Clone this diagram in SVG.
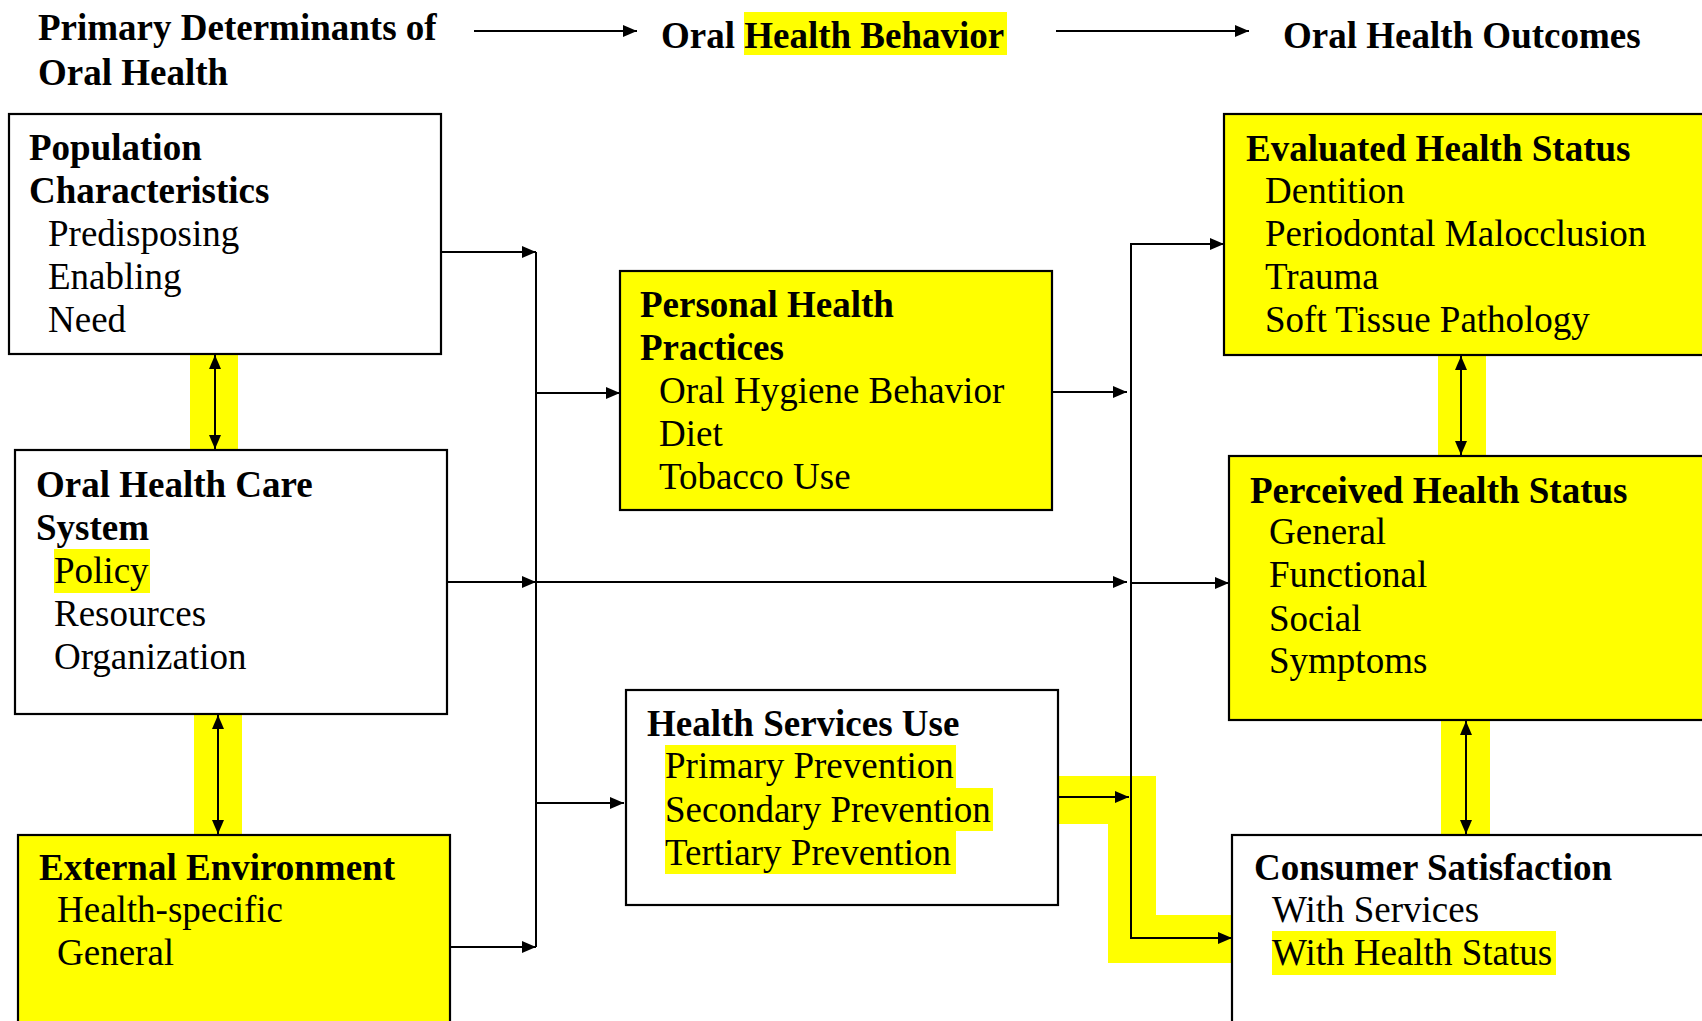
<svg xmlns="http://www.w3.org/2000/svg" width="1702" height="1021" viewBox="0 0 1702 1021">
<defs>
<style>
text{font-family:"Liberation Serif","Times New Roman",serif;font-size:37px;fill:#000}
.b{font-weight:bold}
.box{stroke:#000;stroke-width:2.2}
.y{fill:#ffff00}
.w{fill:#ffffff}
.ln{stroke:#000;stroke-width:2;fill:none}
.hl{fill:#ffff00;stroke:none}
</style>
<marker id="ah" viewBox="0 0 14 12" refX="14" refY="6" markerWidth="14" markerHeight="12" markerUnits="userSpaceOnUse" orient="auto-start-reverse">
<path d="M0,0 L14,6 L0,12 z" fill="#000"/>
</marker>
</defs>
<rect width="1702" height="1021" fill="#fff"/>

<g id="highlights">
<rect class="hl" x="744" y="12" width="263" height="43"/>
<rect class="hl" x="190" y="354" width="48" height="96"/>
<rect class="hl" x="194" y="714" width="48" height="121"/>
<rect class="hl" x="1438" y="355" width="48" height="101"/>
<rect class="hl" x="1441" y="720" width="49" height="115"/>
<polygon class="hl" points="1058,776 1156,776 1156,915 1232,915 1232,963 1108,963 1108,824 1058,824"/>
</g>

<g id="titles">
<text class="b" x="38" y="40">Primary Determinants of</text>
<text class="b" x="38" y="85">Oral Health</text>
<text class="b" x="661" y="48">Oral Health Behavior</text>
<text class="b" x="1283" y="48">Oral Health Outcomes</text>
</g>

<g id="node-population">
<rect class="box w" x="9" y="114" width="432" height="240"/>
<text class="b" x="29" y="160">Population</text>
<text class="b" x="29" y="203">Characteristics</text>
<text x="48" y="246">Predisposing</text>
<text x="48" y="289">Enabling</text>
<text x="48" y="332">Need</text>
</g>

<g id="node-care-system">
<rect class="box w" x="15" y="450" width="432" height="264"/>
<text class="b" x="36" y="497">Oral Health Care</text>
<text class="b" x="36" y="540">System</text>
<rect class="hl" x="54" y="549" width="96" height="44"/>
<text x="54" y="583">Policy</text>
<text x="54" y="626">Resources</text>
<text x="54" y="669">Organization</text>
</g>

<g id="node-external">
<rect class="box y" x="18" y="835" width="432" height="200"/>
<text class="b" x="39" y="880">External Environment</text>
<text x="57" y="922">Health-specific</text>
<text x="57" y="965">General</text>
</g>

<g id="node-personal">
<rect class="box y" x="620" y="271" width="432" height="239"/>
<text class="b" x="640" y="317">Personal Health</text>
<text class="b" x="640" y="360">Practices</text>
<text x="659" y="403">Oral Hygiene Behavior</text>
<text x="659" y="446">Diet</text>
<text x="659" y="489">Tobacco Use</text>
</g>

<g id="node-services">
<rect class="box w" x="626" y="690" width="432" height="215"/>
<text class="b" x="647" y="736">Health Services Use</text>
<rect class="hl" x="665" y="745" width="291" height="43"/>
<rect class="hl" x="665" y="788" width="328" height="43"/>
<rect class="hl" x="665" y="831" width="291" height="43"/>
<text x="665" y="778">Primary Prevention</text>
<text x="665" y="822">Secondary Prevention</text>
<text x="665" y="865">Tertiary Prevention</text>
</g>

<g id="node-evaluated">
<rect class="box y" x="1224" y="114" width="490" height="241"/>
<text class="b" x="1246" y="161">Evaluated Health Status</text>
<text x="1265" y="203">Dentition</text>
<text x="1265" y="246">Periodontal Malocclusion</text>
<text x="1265" y="289">Trauma</text>
<text x="1265" y="332">Soft Tissue Pathology</text>
</g>

<g id="node-perceived">
<rect class="box y" x="1229" y="456" width="485" height="264"/>
<text class="b" x="1250" y="503">Perceived Health Status</text>
<text x="1269" y="544">General</text>
<text x="1269" y="587">Functional</text>
<text x="1269" y="631">Social</text>
<text x="1269" y="673">Symptoms</text>
</g>

<g id="node-consumer">
<rect class="box w" x="1232" y="835" width="482" height="200"/>
<text class="b" x="1254" y="880">Consumer Satisfaction</text>
<text x="1272" y="922">With Services</text>
<rect class="hl" x="1272" y="931" width="284" height="44"/>
<text x="1272" y="965">With Health Status</text>
</g>

<g id="connectors">
<line class="ln" x1="474" y1="31" x2="637" y2="31" marker-end="url(#ah)"/>
<line class="ln" x1="1056" y1="31" x2="1249" y2="31" marker-end="url(#ah)"/>
<line class="ln" x1="536" y1="252" x2="536" y2="947"/>
<line class="ln" x1="441" y1="252" x2="536" y2="252" marker-end="url(#ah)"/>
<line class="ln" x1="447" y1="582" x2="536" y2="582" marker-end="url(#ah)"/>
<line class="ln" x1="450" y1="947" x2="536" y2="947" marker-end="url(#ah)"/>
<line class="ln" x1="536" y1="393" x2="620" y2="393" marker-end="url(#ah)"/>
<line class="ln" x1="536" y1="582" x2="1127" y2="582" marker-end="url(#ah)"/>
<line class="ln" x1="536" y1="803" x2="624" y2="803" marker-end="url(#ah)"/>
<line class="ln" x1="1052" y1="392" x2="1127" y2="392" marker-end="url(#ah)"/>
<line class="ln" x1="1058" y1="797" x2="1129" y2="797" marker-end="url(#ah)"/>
<line class="ln" x1="1131" y1="243" x2="1131" y2="938"/>
<line class="ln" x1="1130" y1="244" x2="1224" y2="244" marker-end="url(#ah)"/>
<line class="ln" x1="1131" y1="583" x2="1229" y2="583" marker-end="url(#ah)"/>
<line class="ln" x1="1130" y1="938" x2="1232" y2="938" marker-end="url(#ah)"/>
<line class="ln" x1="215" y1="355" x2="215" y2="449" marker-start="url(#ah)" marker-end="url(#ah)"/>
<line class="ln" x1="218" y1="715" x2="218" y2="834" marker-start="url(#ah)" marker-end="url(#ah)"/>
<line class="ln" x1="1461" y1="356" x2="1461" y2="455" marker-start="url(#ah)" marker-end="url(#ah)"/>
<line class="ln" x1="1466" y1="721" x2="1466" y2="834" marker-start="url(#ah)" marker-end="url(#ah)"/>
</g>
</svg>
